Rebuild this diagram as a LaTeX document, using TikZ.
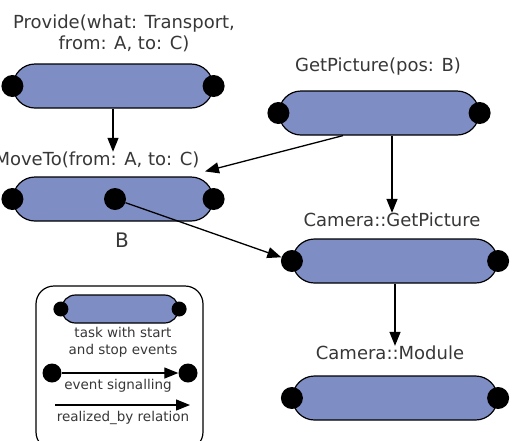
\documentclass[tikz,border=0pt]{standalone}
\usepackage{fontspec}
\setmainfont{DejaVu Sans}
\usetikzlibrary{shapes.misc,arrows.meta}
\definecolor{taskblue}{RGB}{126,142,196}
\definecolor{txtgray}{RGB}{55,55,55}
\tikzset{
  task/.style={rounded rectangle, draw, line width=1.2pt, fill=taskblue,
               minimum width=200pt, minimum height=44pt, inner sep=0pt},
  evt/.style={circle, fill=black, minimum size=22pt, inner sep=0pt},
  lbl/.style={text=txtgray, font=\fontsize{18}{21}\selectfont, inner sep=0pt, align=center},
  leglbl/.style={text=txtgray, font=\fontsize{13.5}{17}\selectfont, inner sep=0pt, align=center},
  rel/.style={line width=1.3pt, -{Triangle[length=14pt,width=11pt]}}
}
\begin{document}
\begin{tikzpicture}[x=1pt,y=-1pt]
  \useasboundingbox (0,0) rectangle (513,440);
  % tasks
  \node[task] (prov) at (113,86) {};
  \node[evt] (provs) at (prov.west) {};
  \node[evt] (prove) at (prov.east) {};
  \node[lbl] (provlbl) at (124,33) {Provide(what: Transport,\\from: A, to: C)};

  \node[task] (mov) at (113,199) {};
  \node[evt] (movs) at (mov.west) {};
  \node[evt] (move) at (mov.east) {};
  \node[evt] (movb) at (115,199) {};
  \node[lbl] (movlbl) at (97,160) {MoveTo(from: A, to: C)};
  \node[lbl, font=\fontsize{20}{24}\selectfont] (bpos) at (122,240) {B};

  \node[task] (getpic) at (379,113) {};
  \node[evt] (getpics) at (getpic.west) {};
  \node[evt] (getpice) at (getpic.east) {};
  \node[lbl] (getpiclbl) at (378,67) {GetPicture(pos: B)};

  \node[task, minimum width=205pt] (camgp) at (395,261) {};
  \node[evt] (camgps) at (camgp.west) {};
  \node[evt] (camgpe) at (camgp.east) {};
  \node[lbl] (camgplbl) at (392,220) {Camera::GetPicture};

  \node[task, minimum width=205pt] (cammod) at (395,398) {};
  \node[evt] (cammods) at (cammod.west) {};
  \node[evt] (cammode) at (cammod.east) {};
  \node[lbl] (cammodlbl) at (390,353) {Camera::Module};

  % relations
  \draw[rel] (prov.south) -- (prov.south |- movlbl.north);
  \draw[rel] ([xshift=-36pt]getpic.south) -- ([xshift=92pt,yshift=5pt]mov.north);
  \draw[rel] (getpic.south -| camgplbl.north) -- (camgplbl.north);
  \draw[rel] (movb) -- (camgps);
  \draw[rel] (camgp.south) -- (camgp.south |- cammodlbl.north);

  % legend
  \node[draw, line width=1.2pt, rounded corners=18pt, minimum width=167pt,
        minimum height=164pt, inner sep=0pt] (legend) at (119.5,368) {};
  \node[task, minimum width=117pt, minimum height=28pt] (legtask) at (120,309) {};
  \node[evt, minimum size=15pt] (legts) at (legtask.west) {};
  \node[evt, minimum size=15pt] (legte) at (legtask.east) {};
  \node[leglbl] (legtasklbl) at (123,342) {task with start\\and stop events};
  \node[evt, minimum size=19pt] (legev1) at (52,373) {};
  \node[evt, minimum size=19pt] (legev2) at (188,373) {};
  \draw[rel] (legev1) -- (legev2);
  \node[leglbl] (legevlbl) at (118,386) {event signalling};
  \coordinate (legr1) at (55,405);
  \coordinate (legr2) at (190,405);
  \draw[rel] (legr1) -- (legr2);
  \node[leglbl] (legrlbl) at (123,418) {realized\_by relation};
\end{tikzpicture}
\end{document}
